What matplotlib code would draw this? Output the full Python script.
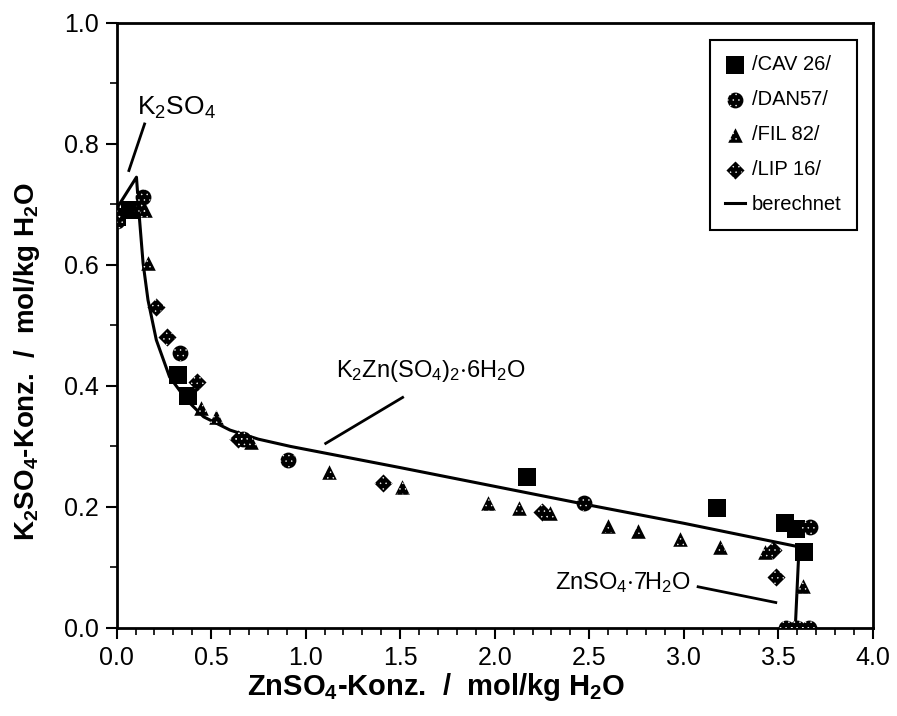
import matplotlib
matplotlib.use("Agg")
import matplotlib.pyplot as plt
from matplotlib.lines import Line2D
from matplotlib.ticker import MultipleLocator, FormatStrFormatter
from matplotlib.legend_handler import HandlerTuple

FONT = ['Liberation Sans', 'DejaVu Sans']
plt.rcParams['font.family'] = FONT
plt.rcParams['hatch.color'] = 'white'
plt.rcParams['hatch.linewidth'] = 0.3
plt.rcParams['mathtext.fontset'] = 'custom'
plt.rcParams['mathtext.rm'] = 'Liberation Sans'
plt.rcParams['mathtext.bf'] = 'Liberation Sans:bold'
plt.rcParams['mathtext.default'] = 'regular'

# ---- data (ZnSO4 mol/kg, K2SO4 mol/kg) ----
cav_x = [0.00, 0.07, 0.325, 0.377, 2.17, 3.176, 3.534, 3.596, 3.635]
cav_y = [0.680, 0.690, 0.418, 0.383, 0.250, 0.198, 0.174, 0.163, 0.125]

dan_x = [0.00, 0.14, 0.337, 0.67, 0.906, 2.47, 3.667, 3.54, 3.60, 3.66]
dan_y = [0.672, 0.712, 0.454, 0.312, 0.278, 0.206, 0.166, 0.000, 0.000, 0.000]

fil_x = [0.00, 0.13, 0.15, 0.166, 0.448, 0.527, 0.71, 1.124, 1.51, 1.965, 2.13,
         2.29, 2.60, 2.76, 2.98, 3.19, 3.43, 3.63, 3.58]
fil_y = [0.690, 0.700, 0.690, 0.603, 0.363, 0.349, 0.308, 0.257, 0.233, 0.206, 0.198,
         0.190, 0.169, 0.161, 0.147, 0.134, 0.126, 0.069, 0.000]

lip_x = [0.21, 0.266, 0.425, 0.64, 1.41, 2.25, 3.47, 3.49]
lip_y = [0.531, 0.481, 0.407, 0.313, 0.239, 0.191, 0.128, 0.084]

calc_x = [0.00, 0.105, 0.12, 0.14, 0.166, 0.21, 0.28, 0.37, 0.46, 0.60, 0.75, 0.92,
          1.5, 2.0, 2.5, 3.0, 3.61, 3.59]
calc_y = [0.693, 0.745, 0.680, 0.603, 0.542, 0.476, 0.415, 0.377, 0.349, 0.327, 0.312, 0.300,
          0.265, 0.234, 0.203, 0.173, 0.134, 0.000]

legend_labels = ['/CAV 26/', '/DAN57/', '/FIL 82/', '/LIP 16/', 'berechnet']

fig = plt.figure(figsize=(8.97, 7.16), dpi=100)
ax = fig.add_axes([0.130, 0.123, 0.843, 0.845])

ax.plot(calc_x, calc_y, color='black', lw=2.2, zorder=3)


def stipple(x, y, marker, s):
    a = ax.scatter(x, y, marker=marker, s=s, c='black', linewidths=0, zorder=4)
    b = ax.scatter(x, y, marker=marker, s=s, facecolors='none', edgecolors='white',
                   linewidths=0, hatch='...', zorder=5)
    return (a, b)


h_cav = ax.scatter(cav_x, cav_y, marker='s', s=150, c='black', linewidths=0, zorder=4)
h_dan = stipple(dan_x, dan_y, 'o', 130)
h_fil = stipple(fil_x, fil_y, '^', 110)
h_lip = stipple(lip_x, lip_y, 'D', 85)
h_calc = Line2D([], [], color='black', lw=2.2)

leg = ax.legend([h_cav, h_dan, h_fil, h_lip, h_calc], legend_labels,
                handler_map={tuple: HandlerTuple(ndivide=1)},
                loc='upper right', bbox_to_anchor=(0.979, 0.972), borderaxespad=0,
                frameon=True, fancybox=False, edgecolor='black', framealpha=1,
                prop={'family': FONT, 'size': 14.5}, handlelength=1.0, handletextpad=0.35,
                labelspacing=0.8, borderpad=0.75, scatterpoints=1)
leg.get_frame().set_linewidth(1.5)

# annotations
ax.text(0.11, 0.86, r'K$_2$SO$_4$', fontsize=19, ha='left', va='center')
ax.plot([0.148, 0.065], [0.833, 0.756], color='black', lw=2)
ax.text(1.16, 0.425, r'K$_2$Zn(SO$_4$)$_2$$\cdot$6H$_2$O', fontsize=17, ha='left', va='center')
ax.plot([1.513, 1.106], [0.381, 0.305], color='black', lw=2)
ax.text(2.32, 0.075, r'ZnSO$_4$$\cdot$7H$_2$O', fontsize=17, ha='left', va='center')
ax.plot([3.076, 3.487], [0.068, 0.042], color='black', lw=2)

ax.set_xlim(0, 4.0)
ax.set_ylim(0, 1.0)
ax.xaxis.set_major_locator(MultipleLocator(0.5))
ax.xaxis.set_minor_locator(MultipleLocator(0.1))
ax.yaxis.set_major_locator(MultipleLocator(0.2))
ax.yaxis.set_minor_locator(MultipleLocator(0.1))
ax.xaxis.set_major_formatter(FormatStrFormatter('%.1f'))
ax.yaxis.set_major_formatter(FormatStrFormatter('%.1f'))
ax.tick_params(which='major', direction='out', length=8, width=1.5, labelsize=18, pad=5)
ax.tick_params(which='minor', direction='out', length=5, width=1.2)
for sp in ax.spines.values():
    sp.set_linewidth(2)

ax.set_xlabel(r'ZnSO$_\mathbf{4}$-Konz.  /  mol/kg H$_\mathbf{2}$O', fontsize=21, fontweight='bold')
ax.set_ylabel(r'K$_\mathbf{2}$SO$_\mathbf{4}$-Konz.  /  mol/kg H$_\mathbf{2}$O', fontsize=20, fontweight='bold')
ax.xaxis.set_label_coords(0.422, -0.072)
ax.yaxis.set_label_coords(-0.099, 0.44)

fig.savefig('out.png', dpi=100)
